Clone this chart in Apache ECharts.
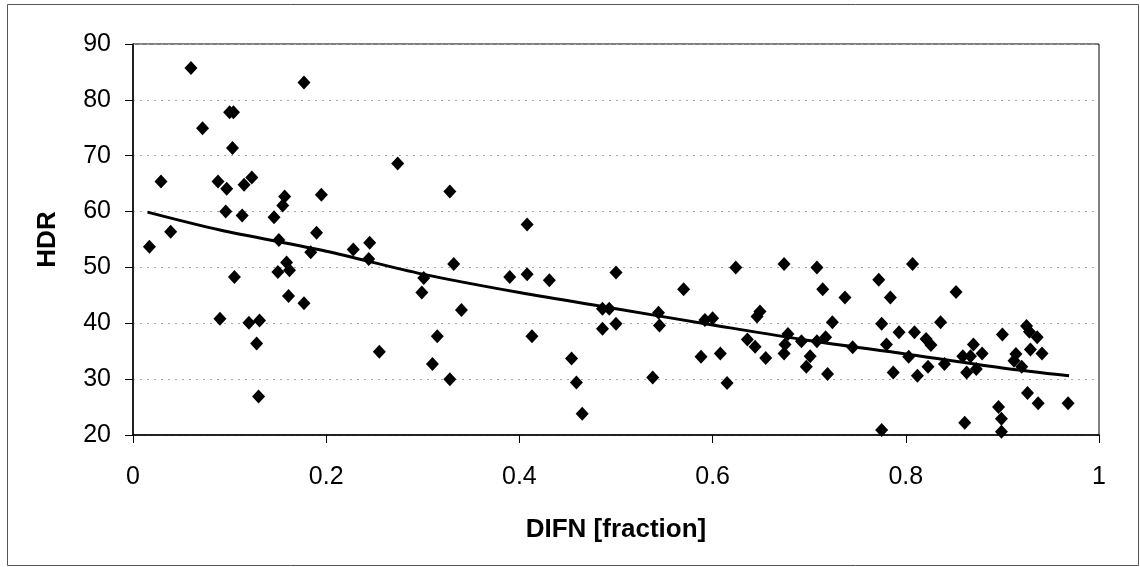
<!DOCTYPE html>
<html>
<head>
<meta charset="utf-8">
<title>HDR vs DIFN</title>
<script src="https://cdn.jsdelivr.net/npm/echarts@6/dist/echarts.min.js"></script>
<style>
  html, body { margin: 0; padding: 0; background: #fff; }
  #chart { width: 1140px; height: 567px; }
</style>
</head>
<body>
<div id="chart"></div>
<script>
// Measured samples: diffuse fraction (DIFN) and HDR
const difn = [
  0.017, 0.029, 0.039, 0.060, 0.072, 0.088, 0.090, 0.096, 0.097, 0.100,
  0.104, 0.103, 0.105, 0.113, 0.115, 0.120, 0.123, 0.128, 0.130, 0.131,
  0.146, 0.150, 0.151, 0.155, 0.157, 0.159, 0.161, 0.162, 0.177, 0.177,
  0.184, 0.190, 0.195, 0.228, 0.244, 0.245, 0.255, 0.274, 0.299, 0.301,
  0.310, 0.315, 0.328, 0.328, 0.332, 0.340, 0.390, 0.408, 0.408, 0.413,
  0.431, 0.454, 0.459, 0.465, 0.486, 0.486, 0.493, 0.500, 0.500, 0.538,
  0.544, 0.545, 0.570, 0.588, 0.592, 0.600, 0.608, 0.615, 0.624, 0.636,
  0.644, 0.646, 0.649, 0.655, 0.674, 0.678, 0.675, 0.674, 0.692, 0.701,
  0.697, 0.708, 0.717, 0.708, 0.714, 0.719, 0.724, 0.737, 0.745, 0.772,
  0.807, 0.784, 0.775, 0.793, 0.780, 0.809, 0.821, 0.826, 0.803, 0.787,
  0.812, 0.823, 0.836, 0.840, 0.852, 0.859, 0.867, 0.870, 0.879, 0.863,
  0.873, 0.861, 0.775, 0.900, 0.896, 0.899, 0.899, 0.914, 0.912, 0.920,
  0.925, 0.928, 0.936, 0.929, 0.941, 0.926, 0.937, 0.968
];
const hdr = [
  53.7, 65.4, 56.4, 85.7, 74.9, 65.4, 40.8, 60.0, 64.1, 77.8,
  77.8, 71.4, 48.3, 59.3, 64.8, 40.1, 66.1, 36.4, 26.9, 40.5,
  59.0, 49.2, 54.9, 61.1, 62.7, 50.9, 44.9, 49.5, 83.1, 43.6,
  52.7, 56.2, 63.0, 53.2, 51.5, 54.4, 34.9, 68.6, 45.5, 48.1,
  32.7, 37.7, 63.6, 30.0, 50.6, 42.4, 48.3, 57.7, 48.8, 37.7,
  47.7, 33.7, 29.4, 23.8, 42.6, 39.0, 42.6, 49.1, 39.9, 30.3,
  41.9, 39.6, 46.1, 34.0, 40.6, 40.9, 34.6, 29.3, 50.0, 37.1,
  35.8, 41.2, 42.1, 33.8, 50.6, 38.1, 36.2, 34.6, 36.8, 34.1,
  32.2, 36.8, 37.5, 50.0, 46.1, 30.9, 40.2, 44.6, 35.7, 47.8,
  50.6, 44.6, 39.9, 38.4, 36.2, 38.4, 37.2, 36.1, 34.0, 31.2,
  30.6, 32.2, 40.2, 32.7, 45.6, 34.1, 34.1, 36.2, 34.6, 31.2,
  31.8, 22.2, 20.9, 38.0, 25.0, 22.9, 20.6, 34.5, 33.3, 32.2,
  39.5, 38.5, 37.5, 35.3, 34.6, 27.5, 25.7, 25.7
];

// Trend line (exponential fit) traced at several DIFN positions
const trendDifn = [0.015, 0.09, 0.2, 0.3, 0.4, 0.5, 0.6, 0.7, 0.8, 0.9, 0.969];
const trendHdr  = [59.9, 56.7, 52.9, 48.8, 45.5, 42.6, 39.7, 36.9, 34.5, 32.0, 30.6];

// Axis ranges
const xMin = 0, xMax = 1, xStep = 0.2;
const yMin = 20, yMax = 90, yStep = 10;

const points = difn.map((d, i) => [d, hdr[i]]);
const trend = trendDifn.map((d, i) => [d, trendHdr[i]]);

const FONT = '"Liberation Sans", Arial, sans-serif';

const chart = echarts.init(document.getElementById('chart'), null, { renderer: 'canvas' });
chart.setOption({
  backgroundColor: '#ffffff',
  animation: false,
  graphic: [{
    type: 'rect',
    shape: { x: 7.5, y: 4.5, width: 1131, height: 561 },
    style: { fill: 'none', stroke: '#555', lineWidth: 1 },
    silent: true,
    z: -1
  }],
  grid: {
    left: 133, right: 41, top: 44, bottom: 132,
    show: true, borderColor: '#000', borderWidth: 1, backgroundColor: 'transparent'
  },
  xAxis: {
    type: 'value',
    min: xMin, max: xMax, interval: xStep,
    name: 'DIFN [fraction]',
    nameLocation: 'middle',
    nameGap: 82,
    nameTextStyle: { fontFamily: FONT, fontSize: 26, fontWeight: 'bold', color: '#000' },
    axisLine: { show: true, onZero: false, lineStyle: { color: '#000', width: 1.5 } },
    axisTick: { show: true, inside: false, length: 8, lineStyle: { color: '#000', width: 1 } },
    axisLabel: { fontFamily: FONT, fontSize: 25, color: '#000', margin: 30 },
    splitLine: { show: false }
  },
  yAxis: {
    type: 'value',
    min: yMin, max: yMax, interval: yStep,
    name: 'HDR',
    nameLocation: 'middle',
    nameGap: 72,
    nameTextStyle: { fontFamily: FONT, fontSize: 26, fontWeight: 'bold', color: '#000' },
    axisLine: { show: true, lineStyle: { color: '#000', width: 1.5 } },
    axisTick: { show: true, inside: false, length: 8, lineStyle: { color: '#000', width: 1 } },
    axisLabel: { fontFamily: FONT, fontSize: 25, color: '#000', margin: 22 },
    splitLine: { show: true, lineStyle: { color: '#aaa', width: 1, type: [2, 5] } }
  },
  series: [
    {
      type: 'scatter',
      data: points,
      symbol: 'diamond',
      symbolSize: [13, 14],
      itemStyle: { color: '#000', opacity: 1 },
      z: 3
    },
    {
      type: 'line',
      data: trend,
      showSymbol: false,
      smooth: 0.3,
      lineStyle: { color: '#000', width: 3 },
      z: 2
    }
  ]
});
</script>
</body>
</html>
